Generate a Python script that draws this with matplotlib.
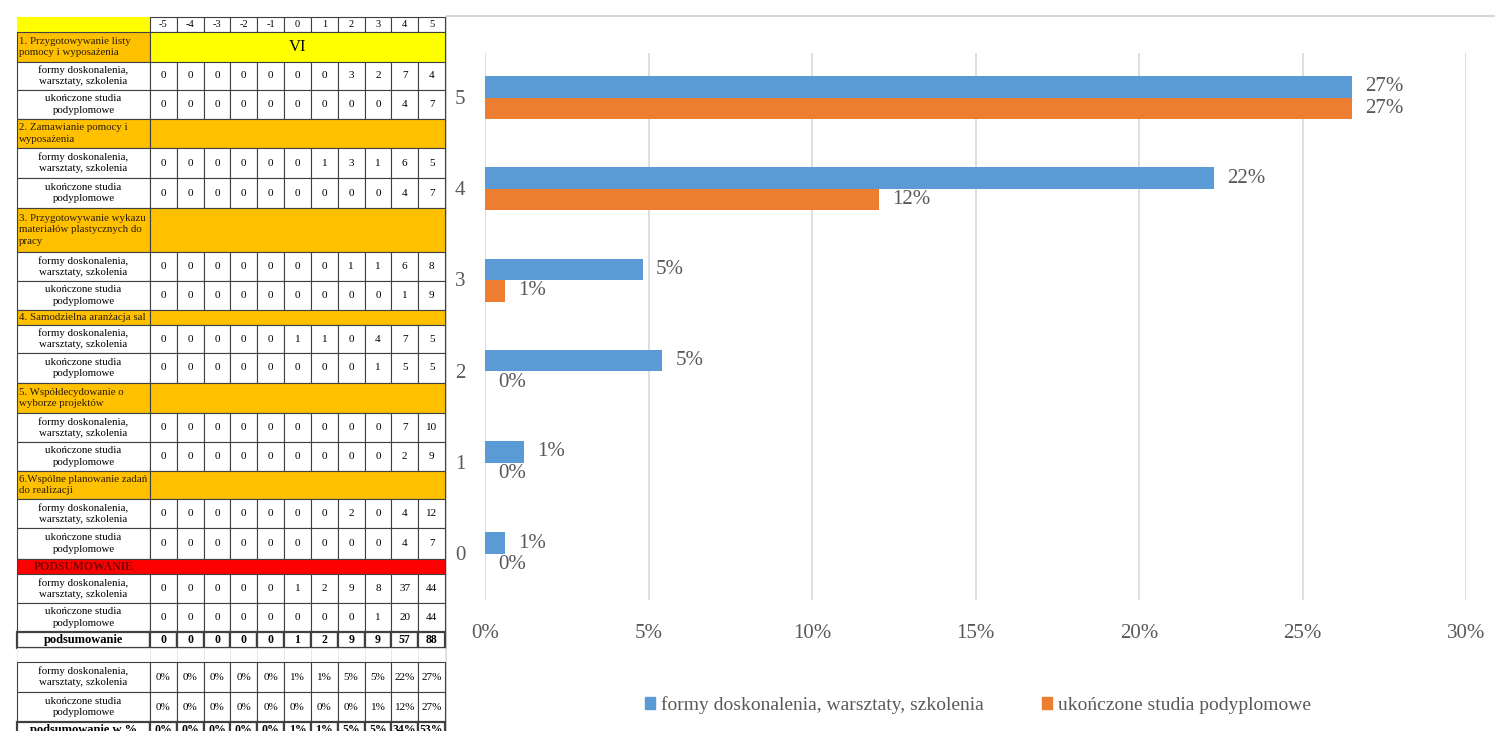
import numpy as np
import matplotlib
matplotlib.use("Agg")
import matplotlib.pyplot as plt
from matplotlib.patches import Rectangle, Patch
from matplotlib.ticker import FuncFormatter

# ---------------- data ----------------
scale = [-5, -4, -3, -2, -1, 0, 1, 2, 3, 4, 5]
chart_levels = [0, 1, 2, 3, 4, 5]

sections = [
    "1. Przygotowywanie listy\npomocy i wyposażenia",
    "2. Zamawianie pomocy i\nwyposażenia",
    "3. Przygotowywanie wykazu\nmateriałów plastycznych do\npracy",
    "4. Samodzielna aranżacja sal",
    "5. Współdecydowanie o\nwyborze projektów",
    "6.Wspólne planowanie zadań\ndo realizacji",
]
row_labels = ["formy doskonalenia,\nwarsztaty, szkolenia", "ukończone studia\npodyplomowe"]
legend_labels = ["formy doskonalenia, warsztaty, szkolenia", "ukończone studia podyplomowe"]
level_label = "VI"
summary_title = "PODSUMOWANIE"
total_label = "podsumowanie"
total_pct_label = "podsumowanie w %"

forms_counts = [
    [0, 0, 0, 0, 0, 0, 0, 3, 2, 7, 4],
    [0, 0, 0, 0, 0, 0, 1, 3, 1, 6, 5],
    [0, 0, 0, 0, 0, 0, 0, 1, 1, 6, 8],
    [0, 0, 0, 0, 0, 1, 1, 0, 4, 7, 5],
    [0, 0, 0, 0, 0, 0, 0, 0, 0, 7, 10],
    [0, 0, 0, 0, 0, 0, 0, 2, 0, 4, 12],
]
studia_counts = [
    [0, 0, 0, 0, 0, 0, 0, 0, 0, 4, 7],
    [0, 0, 0, 0, 0, 0, 0, 0, 0, 4, 7],
    [0, 0, 0, 0, 0, 0, 0, 0, 0, 1, 9],
    [0, 0, 0, 0, 0, 0, 0, 0, 1, 5, 5],
    [0, 0, 0, 0, 0, 0, 0, 0, 0, 2, 9],
    [0, 0, 0, 0, 0, 0, 0, 0, 0, 4, 7],
]

forms_sum = np.sum(forms_counts, axis=0)
studia_sum = np.sum(studia_counts, axis=0)
total_sum = forms_sum + studia_sum
grand_total = total_sum.sum()
forms_share = forms_sum / grand_total
studia_share = studia_sum / grand_total
total_share = total_sum / grand_total

SERIF = ["Liberation Serif", "DejaVu Serif"]
BLUE = "#5B9BD5"
ORANGE = "#ED7D31"
GRAY_TXT = "#595959"
GRID = "#D9D9D9"

W, H = 1495, 731
fig = plt.figure(figsize=(W / 100, H / 100), dpi=100)
fig.patch.set_facecolor("white")

# ---------------- bar chart ----------------
left, right, top, bottom = 485, 1466, 53, 600
ax = fig.add_axes([left / W, 1 - bottom / H, (right - left) / W, (bottom - top) / H])
idx = [scale.index(l) for l in chart_levels]
y = np.array(chart_levels, dtype=float)
bh = 0.236
off = 0.118
vb = forms_share[idx]
vo = studia_share[idx]
ax.barh(y + off - 0.01, vb, height=bh, color=BLUE, zorder=3)
ax.barh(y - off - 0.01, vo, height=bh, color=ORANGE, zorder=3)
for yy, v in zip(y, vb):
    ax.text(v + 0.0040, yy + off - 0.01, f"{v:.0%}", va="center", ha="left",
            fontsize=15, color=GRAY_TXT, family=SERIF)
for yy, v in zip(y, vo):
    ax.text(v + 0.0040, yy - off - 0.01, f"{v:.0%}", va="center", ha="left",
            fontsize=15, color=GRAY_TXT, family=SERIF)

ax.set_xlim(0, 0.30)
ax.set_ylim(-0.515, 5.48)
ax.set_xticks(np.arange(0, 0.301, 0.05))
ax.xaxis.set_major_formatter(FuncFormatter(lambda v, p: f"{v:.0%}"))
ax.set_yticks(y)
ax.set_yticklabels([str(l) for l in chart_levels])
ax.grid(axis="x", color=GRID, lw=1.2, zorder=0)
ax.tick_params(length=0, labelsize=15, labelcolor=GRAY_TXT)
ax.tick_params(axis="x", pad=17)
ax.tick_params(axis="y", pad=14)
for lab in ax.get_xticklabels() + ax.get_yticklabels():
    lab.set_family(SERIF)
for s in ax.spines.values():
    s.set_visible(False)

handles = [Patch(color=BLUE), Patch(color=ORANGE)]
fig.legend(handles, legend_labels, loc="center", bbox_to_anchor=(978 / W, 1 - 705 / H),
           ncol=2, frameon=False, handlelength=0.5, handleheight=0.5, handletextpad=0.3,
           columnspacing=3.0, prop={"family": SERIF, "size": 14}, labelcolor=GRAY_TXT)

# ---------------- table ----------------
tb = fig.add_axes([0, 0, 1, 1], zorder=5)
tb.set_xlim(0, W)
tb.set_ylim(H, 0)
tb.axis("off")
tb.patch.set_alpha(0)

# chart frame
tb.add_patch(Rectangle((446, 16), 1200, 900, fill=False, edgecolor="#D0D0D0", lw=1.2))

x0, xl, xr = 17, 150, 445
cw = (xr - xl) / len(scale)
col_x = [xl + i * cw for i in range(len(scale) + 1)]
LINE = "#404040"
YEL = "#FFFF00"
ORG = "#FFC000"
RED = "#FF0000"

edges = [17, 32, 62, 90, 119, 148, 178, 208, 252, 281, 310, 325, 353, 383, 413, 442,
         471, 499, 528, 559, 574, 603, 632, 648, 662, 692, 722, 738]


def rect(xa, ya, xb, yb, fc="white", ec=LINE, lw=0.8):
    tb.add_patch(Rectangle((xa, ya), xb - xa, yb - ya, facecolor=fc, edgecolor=ec, lw=lw))


def txt(x, yv, s, ha="center", size=8, color="black", weight="normal", ls=1.3):
    tb.text(x, yv, s, ha=ha, va="center", fontsize=size, color=color, family=SERIF,
            weight=weight, linespacing=ls)


def value_row(ya, yb, label, values, fmt=str, bold=False, lw=0.8):
    rect(x0, ya, xl, yb, lw=lw)
    txt((x0 + xl) / 2, (ya + yb) / 2, label, weight="bold" if bold else "normal",
        size=9 if bold else 7.8)
    for i, v in enumerate(values):
        rect(col_x[i], ya, col_x[i + 1], yb, lw=lw)
        txt((col_x[i] + col_x[i + 1]) / 2, (ya + yb) / 2, fmt(v),
            weight="bold" if bold else "normal", size=8.5 if bold else 8)


# header
rect(x0, edges[0], xl, edges[1], fc=YEL, ec=YEL)
for i, s in enumerate(scale):
    rect(col_x[i], edges[0], col_x[i + 1], edges[1])
    txt((col_x[i] + col_x[i + 1]) / 2, (edges[0] + edges[1]) / 2, str(s), size=7.5)

r = 1
for k, sec in enumerate(sections):
    ya, yb = edges[r], edges[r + 1]
    rect(x0, ya, xl, yb, fc=ORG, lw=0.8)
    txt(x0 + 2, (ya + yb) / 2, sec, ha="left", size=7.8, color="#2b1d00", ls=1.35)
    if k == 0:
        rect(xl, ya, xr, yb, fc=YEL, lw=0.8)
        txt((xl + xr) / 2, (ya + yb) / 2, level_label, size=12)
    else:
        rect(xl, ya, xr, yb, fc=ORG, lw=0.8)
    r += 1
    value_row(edges[r], edges[r + 1], row_labels[0], forms_counts[k])
    r += 1
    value_row(edges[r], edges[r + 1], row_labels[1], studia_counts[k])
    r += 1

# summary block
ya, yb = edges[r], edges[r + 1]
rect(x0, ya, xr, yb, fc=RED, lw=0.8)
txt((x0 + xl) / 2, (ya + yb) / 2, summary_title, size=8.5, color="#7a0000", weight="bold")
r += 1
value_row(edges[r], edges[r + 1], row_labels[0], forms_sum)
r += 1
value_row(edges[r], edges[r + 1], row_labels[1], studia_sum)
r += 1
value_row(edges[r], edges[r + 1], total_label, total_sum, bold=True, lw=1.6)
r += 1
# empty spacer row with faint gridlines
ya, yb = edges[r], edges[r + 1]
rect(x0, ya, xl, yb, ec="#E4E4E4", lw=0.6)
for i in range(len(scale)):
    rect(col_x[i], ya, col_x[i + 1], yb, ec="#E4E4E4", lw=0.6)
r += 1
pct = lambda v: f"{v:.0%}"
value_row(edges[r], edges[r + 1], row_labels[0], forms_share, fmt=pct)
r += 1
value_row(edges[r], edges[r + 1], row_labels[1], studia_share, fmt=pct)
r += 1
value_row(edges[r], edges[r + 1], total_pct_label, total_share, fmt=pct, bold=True, lw=1.6)

fig.savefig("out.png", dpi=100, facecolor="white")
